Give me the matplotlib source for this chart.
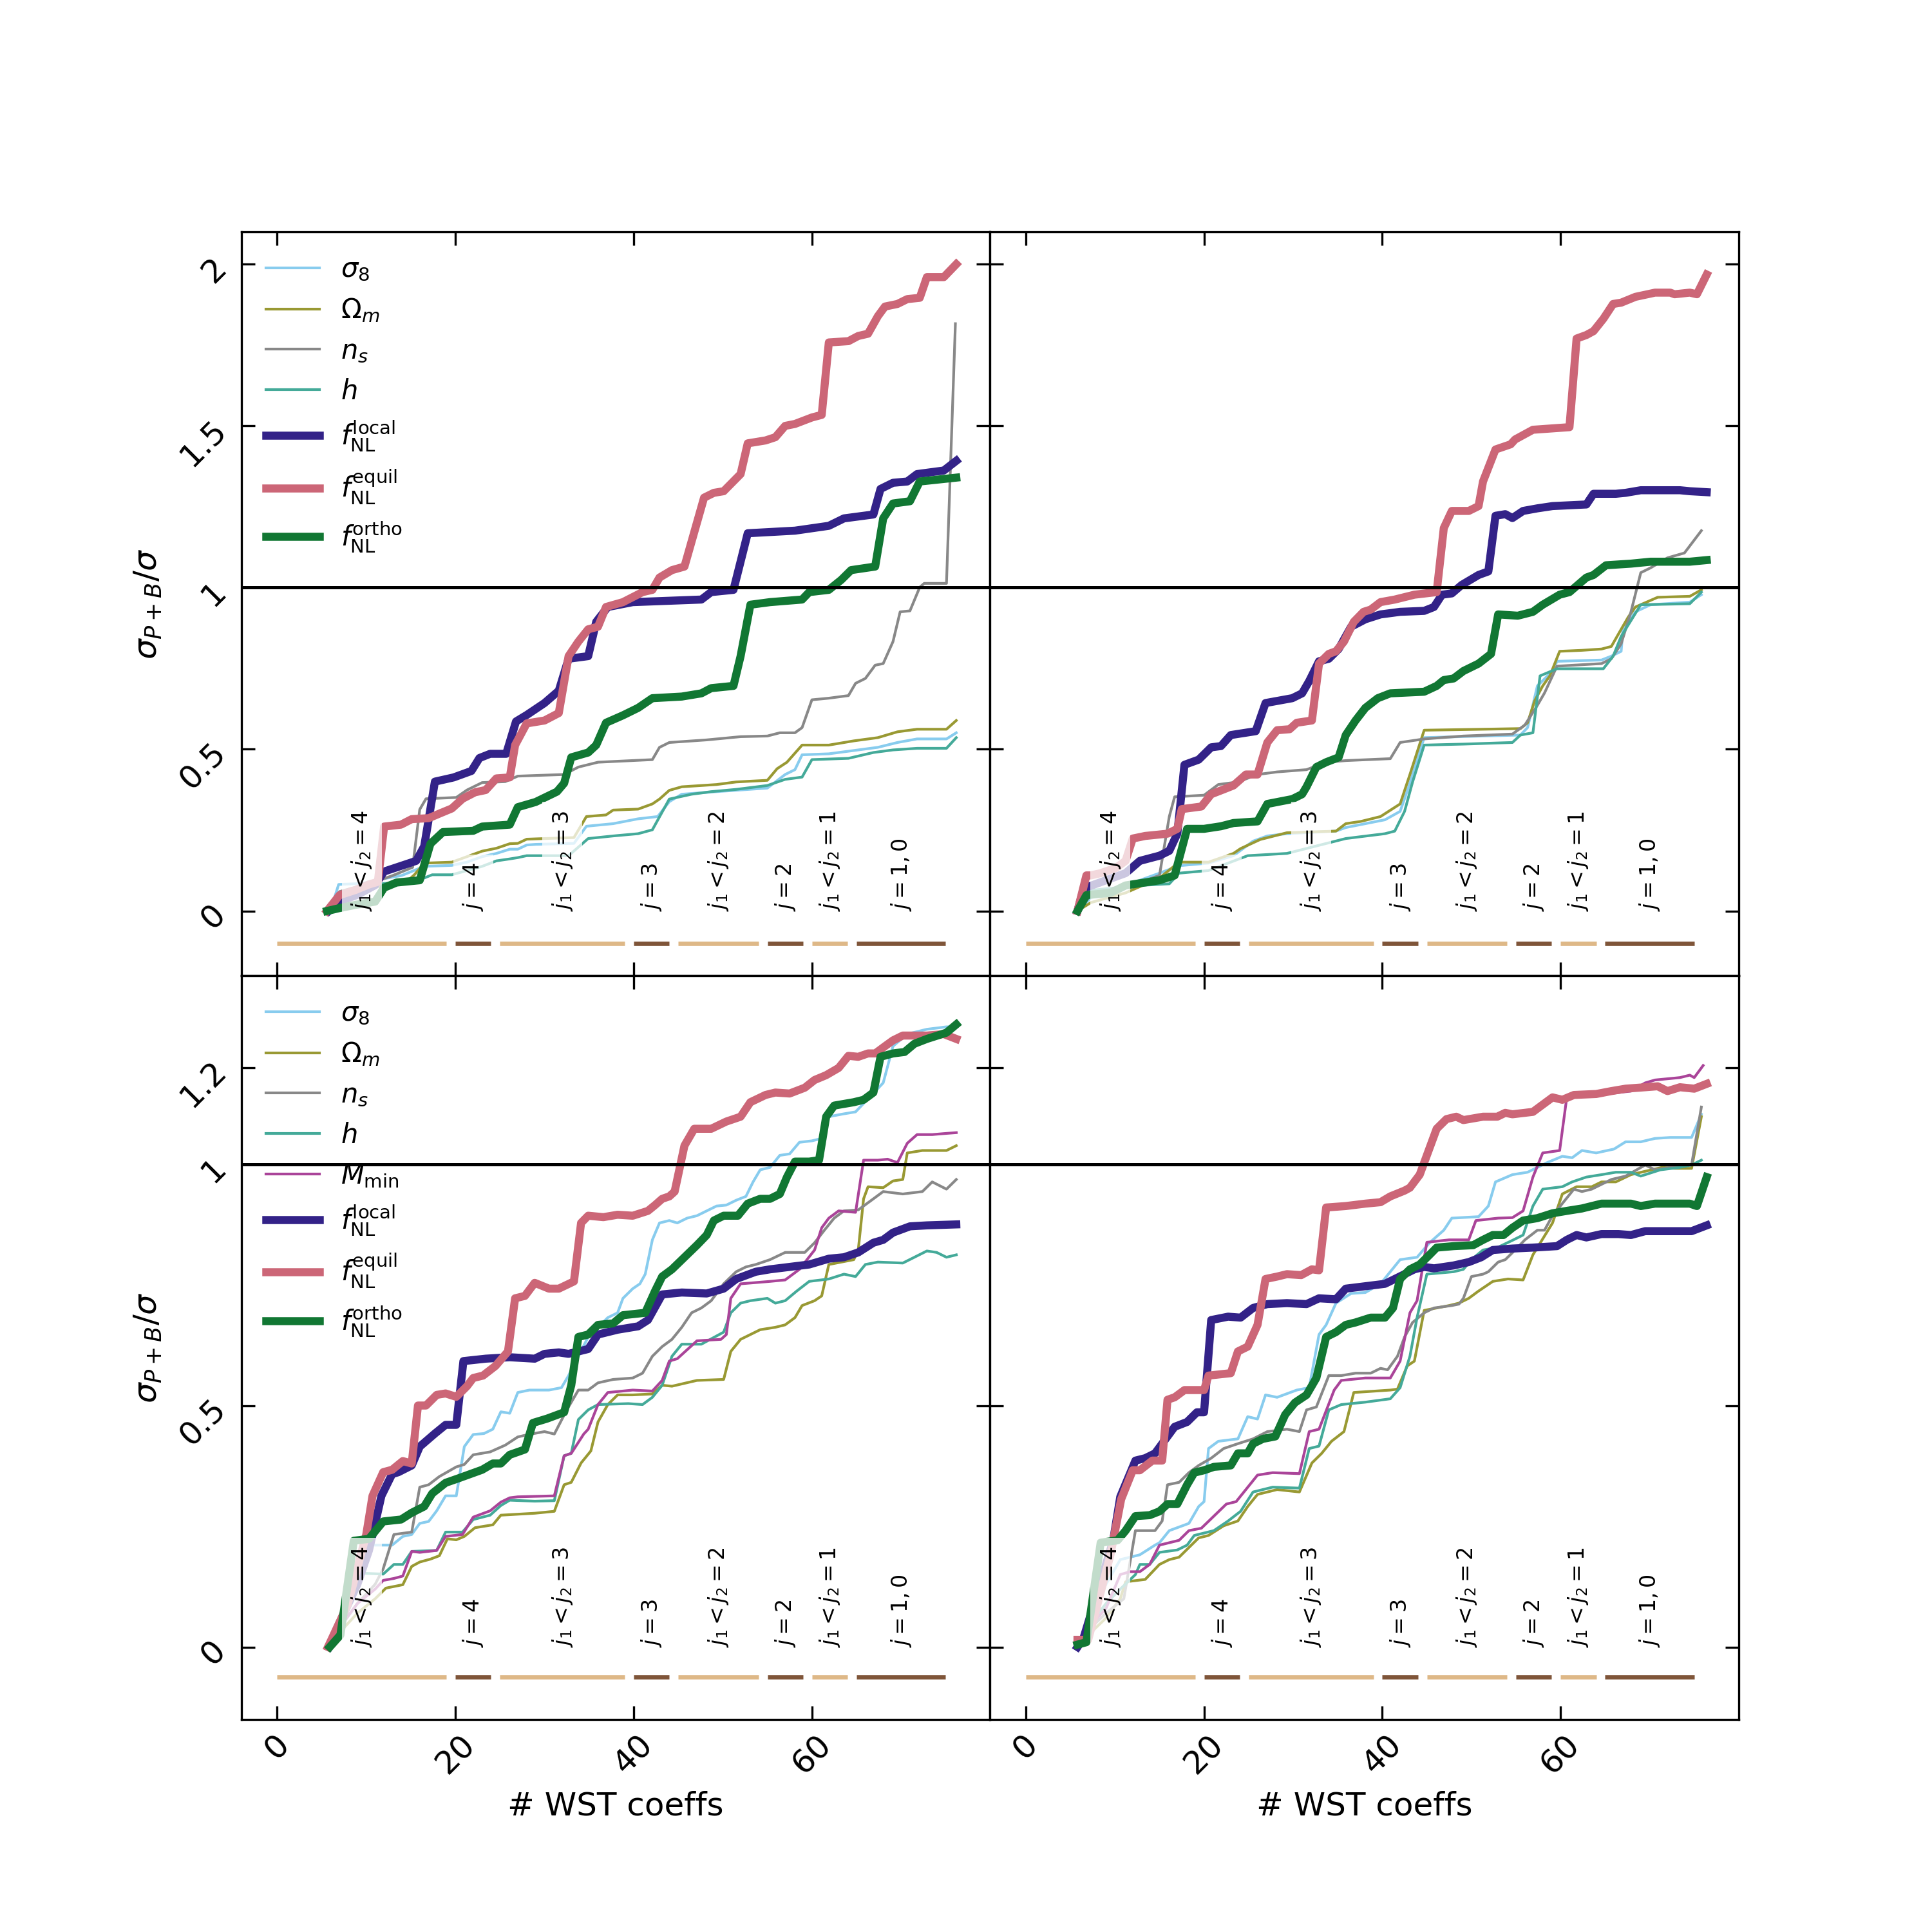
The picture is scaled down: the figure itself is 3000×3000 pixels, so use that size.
import matplotlib
matplotlib.use("Agg")
import matplotlib.pyplot as plt

# ---- WST 系数分组 (index 区间, 标签) ----
group_starts = [0, 20, 25, 40, 45, 55, 60, 65]
group_ends = [19, 24, 39, 44, 54, 59, 64, 75]
group_labels = [r"$j_1 < j_2 = 4$", r"$j = 4$", r"$j_1 < j_2 = 3$", r"$j = 3$",
                r"$j_1 < j_2 = 2$", r"$j = 2$", r"$j_1 < j_2 = 1$", r"$j = 1, 0$"]

param_labels = [r"$\sigma_8$", r"$\Omega_m$", r"$n_s$", r"$h$", r"$M_{\rm min}$",
                r"$f_{\rm NL}^{\rm local}$", r"$f_{\rm NL}^{\rm equil}$", r"$f_{\rm NL}^{\rm ortho}$"]
param_colors = ["#88CCEE", "#999933", "#888888", "#44AA99", "#AA4499",
                "#332288", "#CC6677", "#117733"]

# ---- top-left ----
tl_s8_x = [5.8, 6.3, 6.9, 9.5, 11.0, 14.0, 16.5, 19.6, 21.3, 23.0, 24.6, 26.1, 27.0, 28.0, 29.0, 33.3, 34.7, 37.7, 40.5, 42.7, 44.0, 45.4, 49.3, 55.0, 57.0, 58.1, 58.9, 61.9, 65.2, 67.4, 69.6, 71.8, 75.1, 76.2]
tl_s8_y = [0, 0.029, 0.082, 0.085, 0.095, 0.11, 0.138, 0.141, 0.151, 0.168, 0.178, 0.191, 0.191, 0.204, 0.206, 0.209, 0.262, 0.27, 0.285, 0.292, 0.338, 0.361, 0.369, 0.38, 0.422, 0.437, 0.483, 0.486, 0.498, 0.506, 0.521, 0.532, 0.532, 0.551]
tl_om_x = [5.8, 7.0, 9.0, 12.0, 14.5, 15.4, 16.5, 19.6, 23.0, 24.6, 26.1, 27.0, 28.0, 29.0, 33.3, 34.7, 36.9, 37.7, 40.5, 42.1, 42.9, 44.0, 45.4, 49.3, 51.5, 55.0, 56.1, 57.2, 58.9, 61.9, 64.7, 67.4, 69.6, 71.8, 75.1, 76.2]
tl_om_y = [0, 0.03, 0.06, 0.08, 0.09, 0.112, 0.148, 0.151, 0.185, 0.194, 0.208, 0.209, 0.222, 0.223, 0.227, 0.292, 0.297, 0.312, 0.315, 0.331, 0.346, 0.373, 0.384, 0.391, 0.399, 0.404, 0.44, 0.46, 0.513, 0.513, 0.526, 0.536, 0.554, 0.562, 0.562, 0.589]
tl_ns_x = [5.8, 7.0, 11.0, 13.0, 15.2, 16.0, 16.7, 20.1, 21.3, 23.0, 25.6, 27.0, 29.0, 32.2, 33.8, 36.0, 42.1, 42.9, 44.0, 48.2, 52.0, 55.0, 56.4, 58.1, 58.9, 60.0, 61.9, 64.1, 64.9, 66.0, 67.1, 68.0, 69.1, 69.9, 71.0, 72.1, 72.6, 75.1, 76.1]
tl_ns_y = [0, 0.06, 0.09, 0.11, 0.135, 0.314, 0.347, 0.351, 0.374, 0.397, 0.40, 0.417, 0.419, 0.422, 0.445, 0.46, 0.468, 0.506, 0.521, 0.529, 0.539, 0.541, 0.551, 0.551, 0.567, 0.653, 0.658, 0.666, 0.704, 0.719, 0.76, 0.765, 0.833, 0.925, 0.928, 1.001, 1.013, 1.013, 1.816]
tl_h_x = [5.8, 7.0, 9.0, 12.0, 15.4, 16.5, 17.4, 19.6, 21.3, 23.0, 24.6, 26.1, 27.0, 28.0, 29.4, 32.7, 34.9, 37.7, 40.5, 42.1, 44.0, 46.5, 48.7, 51.5, 55.0, 57.0, 58.9, 60.0, 64.1, 66.9, 69.1, 71.8, 75.1, 76.2]
tl_h_y = [0, 0.04, 0.07, 0.085, 0.09, 0.102, 0.112, 0.112, 0.125, 0.138, 0.155, 0.161, 0.165, 0.171, 0.171, 0.171, 0.224, 0.232, 0.239, 0.251, 0.346, 0.361, 0.369, 0.376, 0.388, 0.407, 0.414, 0.468, 0.472, 0.49, 0.498, 0.503, 0.503, 0.536]
tl_loc_x = [5.8, 7.0, 9.0, 11.0, 12.0, 15.6, 16.5, 17.7, 19.8, 21.8, 22.7, 23.9, 25.7, 26.8, 28.0, 30.0, 31.6, 32.7, 34.9, 35.8, 37.1, 39.9, 47.6, 48.7, 51.2, 52.8, 58.1, 61.9, 63.6, 66.9, 67.7, 69.1, 70.7, 71.8, 74.8, 76.2]
tl_loc_y = [0, 0.03, 0.05, 0.08, 0.122, 0.155, 0.2, 0.40, 0.413, 0.433, 0.473, 0.486, 0.486, 0.586, 0.606, 0.643, 0.681, 0.78, 0.788, 0.894, 0.94, 0.955, 0.963, 0.986, 0.993, 1.168, 1.176, 1.191, 1.214, 1.226, 1.305, 1.324, 1.328, 1.351, 1.362, 1.392]
tl_eq_x = [5.6, 7.0, 8.8, 10.3, 11.3, 12.0, 13.9, 15.1, 17.0, 18.2, 19.6, 20.8, 22.2, 23.4, 24.6, 26.1, 26.7, 28.0, 30.0, 31.6, 32.7, 33.8, 34.9, 36.0, 36.9, 38.8, 41.0, 42.1, 42.9, 44.3, 45.7, 47.9, 49.0, 50.1, 52.0, 52.8, 54.8, 55.9, 57.0, 58.1, 60.0, 61.1, 61.9, 64.1, 65.2, 66.3, 67.4, 68.2, 69.6, 70.7, 72.1, 72.9, 74.8, 76.2]
tl_eq_y = [0, 0.049, 0.065, 0.082, 0.09, 0.261, 0.267, 0.284, 0.287, 0.301, 0.317, 0.347, 0.367, 0.374, 0.41, 0.413, 0.513, 0.58, 0.589, 0.612, 0.788, 0.833, 0.871, 0.879, 0.94, 0.955, 0.986, 0.993, 1.031, 1.054, 1.065, 1.278, 1.293, 1.298, 1.351, 1.446, 1.455, 1.465, 1.5, 1.506, 1.526, 1.534, 1.758, 1.762, 1.778, 1.785, 1.839, 1.869, 1.877, 1.892, 1.896, 1.96, 1.96, 2.0]
tl_or_x = [5.6, 7.0, 8.8, 11.0, 12.0, 13.4, 16.0, 17.2, 18.6, 22.0, 23.0, 26.1, 27.0, 29.0, 31.4, 32.2, 33.0, 34.9, 35.8, 36.9, 38.8, 40.5, 42.1, 45.4, 47.6, 48.7, 51.2, 52.0, 53.1, 55.3, 58.9, 59.7, 61.9, 63.3, 64.4, 67.1, 68.0, 69.1, 71.0, 72.1, 76.2]
tl_or_y = [0, 0.009, 0.019, 0.029, 0.072, 0.088, 0.095, 0.208, 0.244, 0.248, 0.261, 0.267, 0.321, 0.337, 0.369, 0.395, 0.475, 0.49, 0.513, 0.582, 0.605, 0.628, 0.658, 0.663, 0.673, 0.689, 0.696, 0.788, 0.947, 0.955, 0.963, 0.986, 0.993, 1.024, 1.054, 1.065, 1.214, 1.26, 1.267, 1.328, 1.34]

# ---- top-right ----
tr_s8_x = [5.8, 7.3, 11.2, 15.0, 17.2, 20.5, 23.3, 25.5, 27.1, 29.3, 34.8, 35.9, 38.1, 40.3, 42.0, 43.1, 44.7, 51.3, 55.5, 56.3, 57.4, 59.1, 59.6, 64.6, 65.7, 66.8, 67.0, 68.4, 70.1, 74.5, 75.8]
tr_s8_y = [0, 0.041, 0.079, 0.117, 0.14, 0.148, 0.171, 0.216, 0.232, 0.239, 0.247, 0.258, 0.27, 0.282, 0.308, 0.395, 0.536, 0.541, 0.544, 0.567, 0.696, 0.742, 0.772, 0.776, 0.788, 0.803, 0.871, 0.925, 0.947, 0.955, 0.978]
tr_om_x = [5.8, 7.3, 11.2, 15.0, 17.2, 20.5, 23.3, 24.1, 26.3, 29.3, 34.8, 35.9, 37.6, 39.8, 42.0, 43.1, 44.7, 51.3, 55.5, 56.3, 57.1, 58.0, 58.8, 59.9, 62.4, 64.6, 65.7, 66.8, 67.6, 68.4, 70.9, 74.5, 75.8]
tr_om_y = [0, 0.026, 0.056, 0.102, 0.151, 0.151, 0.178, 0.193, 0.221, 0.242, 0.247, 0.27, 0.277, 0.292, 0.331, 0.422, 0.559, 0.562, 0.564, 0.582, 0.65, 0.696, 0.727, 0.803, 0.806, 0.81, 0.818, 0.871, 0.909, 0.94, 0.97, 0.973, 0.993]
tr_ns_x = [5.8, 7.3, 11.2, 15.0, 16.1, 16.7, 20.0, 21.6, 23.8, 26.0, 28.2, 31.5, 33.7, 35.9, 40.9, 42.0, 44.7, 49.1, 54.6, 56.0, 57.4, 58.2, 59.6, 64.6, 65.7, 66.8, 67.9, 69.0, 70.1, 72.0, 73.9, 75.8]
tr_ns_y = [0, 0.049, 0.072, 0.11, 0.292, 0.353, 0.358, 0.391, 0.399, 0.422, 0.43, 0.437, 0.46, 0.465, 0.471, 0.521, 0.532, 0.541, 0.547, 0.575, 0.636, 0.674, 0.757, 0.765, 0.78, 0.826, 0.925, 1.046, 1.061, 1.092, 1.107, 1.176]
tr_h_x = [5.8, 7.3, 12.8, 16.1, 17.2, 20.5, 22.7, 24.9, 29.3, 32.6, 35.9, 40.3, 41.4, 42.5, 43.4, 44.7, 49.1, 54.6, 55.5, 56.9, 57.7, 59.6, 64.8, 65.9, 66.8, 69.0, 74.5, 75.8]
tr_h_y = [0, 0.064, 0.079, 0.084, 0.117, 0.125, 0.148, 0.171, 0.178, 0.201, 0.224, 0.239, 0.247, 0.308, 0.399, 0.513, 0.516, 0.521, 0.544, 0.551, 0.727, 0.749, 0.749, 0.788, 0.849, 0.947, 0.95, 0.986]
tr_loc_x = [5.8, 6.5, 11.2, 12.8, 15.0, 16.1, 17.0, 17.8, 19.4, 20.8, 21.9, 23.0, 25.8, 26.9, 29.9, 31.0, 31.8, 32.9, 34.0, 35.1, 36.5, 38.1, 39.8, 42.0, 44.7, 45.8, 46.7, 47.8, 48.9, 50.8, 51.9, 52.7, 53.8, 54.6, 55.8, 57.4, 59.1, 62.9, 63.7, 66.2, 67.3, 69.0, 73.4, 74.5, 76.4]
tr_loc_y = [0, 0.07, 0.117, 0.155, 0.171, 0.186, 0.239, 0.452, 0.468, 0.506, 0.51, 0.544, 0.556, 0.643, 0.658, 0.673, 0.711, 0.772, 0.78, 0.81, 0.879, 0.902, 0.917, 0.925, 0.928, 0.94, 0.978, 0.982, 1.008, 1.039, 1.05, 1.222, 1.227, 1.215, 1.237, 1.245, 1.252, 1.257, 1.29, 1.29, 1.293, 1.301, 1.301, 1.298, 1.295]
tr_eq_x = [5.8, 6.8, 7.3, 8.4, 10.1, 11.2, 12.0, 13.4, 15.9, 17.0, 17.5, 19.7, 20.8, 22.2, 23.3, 24.7, 26.0, 27.1, 28.2, 29.6, 30.4, 32.1, 32.9, 34.0, 34.8, 35.7, 36.8, 37.9, 38.7, 39.8, 41.4, 43.6, 46.1, 46.9, 47.8, 49.7, 50.8, 51.3, 52.7, 54.4, 54.9, 56.9, 61.0, 61.8, 62.9, 63.7, 64.8, 65.9, 66.8, 68.4, 70.6, 72.3, 72.8, 74.5, 75.3, 76.4]
tr_eq_y = [0, 0.11, 0.11, 0.117, 0.133, 0.155, 0.224, 0.232, 0.239, 0.254, 0.315, 0.323, 0.361, 0.376, 0.388, 0.422, 0.422, 0.521, 0.559, 0.562, 0.582, 0.589, 0.765, 0.795, 0.803, 0.833, 0.894, 0.925, 0.932, 0.955, 0.963, 0.978, 0.986, 1.184, 1.237, 1.237, 1.252, 1.328, 1.427, 1.443, 1.458, 1.488, 1.496, 1.77, 1.781, 1.793, 1.831, 1.877, 1.881, 1.899, 1.912, 1.912, 1.907, 1.912, 1.907, 1.968]
tr_or_x = [5.8, 6.8, 9.5, 11.2, 15.0, 16.7, 18.1, 20.0, 21.9, 23.3, 26.0, 27.1, 29.9, 31.0, 31.5, 32.6, 33.7, 35.1, 35.9, 37.0, 38.1, 39.5, 40.9, 44.7, 46.1, 46.9, 48.0, 49.1, 50.8, 52.2, 53.0, 55.2, 56.9, 58.0, 59.9, 61.0, 62.9, 63.7, 65.1, 67.9, 70.1, 74.5, 76.4]
tr_or_y = [0, 0.049, 0.056, 0.079, 0.095, 0.11, 0.254, 0.254, 0.262, 0.272, 0.277, 0.331, 0.346, 0.361, 0.384, 0.445, 0.46, 0.475, 0.544, 0.589, 0.628, 0.658, 0.673, 0.678, 0.696, 0.714, 0.719, 0.742, 0.765, 0.795, 0.917, 0.913, 0.925, 0.947, 0.978, 0.986, 1.031, 1.039, 1.069, 1.074, 1.08, 1.08, 1.085]

# ---- bottom-left ----
bl_s8_x = [5.8, 7.0, 8.5, 9.3, 10.3, 12.9, 14.1, 15.1, 16.0, 17.0, 17.9, 18.9, 20.1, 21.0, 22.0, 23.2, 24.2, 25.1, 26.1, 27.0, 28.3, 30.5, 31.9, 32.7, 33.8, 34.9, 36.0, 37.1, 38.2, 38.8, 39.9, 40.7, 41.3, 42.1, 42.9, 44.0, 44.9, 46.0, 47.1, 48.2, 49.3, 50.4, 51.5, 52.6, 53.4, 54.2, 55.3, 56.4, 57.5, 58.6, 60.0, 61.1, 61.9, 63.3, 64.9, 68.0, 69.1, 70.7, 71.8, 72.9, 75.1, 76.2]
bl_s8_y = [0, 0.05, 0.1, 0.136, 0.211, 0.211, 0.229, 0.233, 0.256, 0.26, 0.282, 0.313, 0.313, 0.415, 0.44, 0.442, 0.451, 0.487, 0.484, 0.527, 0.532, 0.532, 0.537, 0.562, 0.602, 0.642, 0.662, 0.682, 0.692, 0.722, 0.742, 0.752, 0.772, 0.843, 0.878, 0.883, 0.878, 0.888, 0.893, 0.903, 0.913, 0.915, 0.925, 0.933, 0.963, 0.988, 0.993, 1.018, 1.021, 1.045, 1.048, 1.053, 1.098, 1.103, 1.108, 1.168, 1.244, 1.269, 1.274, 1.279, 1.284, 1.284]
bl_om_x = [5.8, 7.0, 9.0, 11.0, 12.2, 14.1, 15.1, 16.0, 17.2, 18.2, 19.1, 20.1, 21.0, 22.2, 24.2, 25.1, 27.0, 28.9, 31.1, 32.2, 33.0, 34.1, 35.2, 36.0, 37.1, 38.2, 39.9, 42.1, 43.2, 44.3, 47.1, 50.1, 50.9, 52.0, 54.2, 55.9, 57.0, 58.1, 58.9, 60.3, 61.1, 61.9, 64.7, 65.2, 65.8, 66.3, 68.0, 69.1, 70.2, 70.7, 72.4, 75.1, 76.2]
bl_om_y = [0, 0.03, 0.07, 0.1, 0.122, 0.129, 0.167, 0.176, 0.182, 0.189, 0.224, 0.222, 0.229, 0.247, 0.253, 0.273, 0.275, 0.277, 0.281, 0.336, 0.341, 0.381, 0.406, 0.466, 0.502, 0.522, 0.522, 0.524, 0.542, 0.54, 0.552, 0.554, 0.612, 0.637, 0.657, 0.662, 0.667, 0.682, 0.707, 0.717, 0.727, 0.792, 0.802, 0.822, 0.928, 0.953, 0.951, 0.965, 0.968, 1.023, 1.028, 1.028, 1.038]
bl_ns_x = [5.8, 7.0, 9.0, 11.0, 11.9, 13.1, 15.1, 16.0, 17.0, 18.2, 20.1, 21.0, 22.0, 23.9, 25.6, 27.0, 28.2, 30.0, 31.1, 32.5, 33.8, 34.9, 36.0, 37.7, 39.9, 41.0, 42.1, 43.2, 44.3, 45.4, 46.5, 47.6, 48.7, 50.1, 51.5, 52.6, 53.7, 55.3, 57.0, 59.2, 60.3, 61.4, 62.5, 63.6, 65.2, 66.9, 68.0, 70.2, 72.4, 73.5, 75.1, 76.2]
bl_ns_y = [0, 0.04, 0.09, 0.13, 0.162, 0.233, 0.238, 0.331, 0.336, 0.353, 0.373, 0.378, 0.398, 0.404, 0.418, 0.435, 0.44, 0.446, 0.441, 0.491, 0.532, 0.532, 0.547, 0.554, 0.557, 0.567, 0.602, 0.622, 0.637, 0.662, 0.692, 0.702, 0.717, 0.752, 0.777, 0.787, 0.792, 0.802, 0.817, 0.817, 0.837, 0.863, 0.888, 0.903, 0.905, 0.928, 0.943, 0.938, 0.943, 0.963, 0.948, 0.968]
bl_h_x = [5.8, 7.0, 8.5, 9.3, 11.9, 13.1, 14.1, 15.1, 17.9, 18.9, 20.8, 22.0, 23.9, 25.1, 26.1, 28.9, 31.1, 32.2, 33.0, 33.8, 34.9, 36.0, 39.4, 41.0, 42.1, 43.2, 44.3, 45.4, 47.6, 50.1, 50.9, 52.0, 53.1, 55.0, 55.9, 57.0, 58.3, 59.7, 61.9, 63.6, 64.9, 66.0, 67.4, 70.2, 71.5, 72.9, 74.0, 75.1, 76.2]
bl_h_y = [0, 0.04, 0.12, 0.153, 0.151, 0.171, 0.171, 0.198, 0.2, 0.238, 0.238, 0.264, 0.273, 0.293, 0.304, 0.302, 0.303, 0.396, 0.401, 0.471, 0.491, 0.502, 0.504, 0.502, 0.517, 0.542, 0.602, 0.627, 0.627, 0.652, 0.692, 0.712, 0.717, 0.722, 0.712, 0.717, 0.737, 0.757, 0.762, 0.772, 0.767, 0.792, 0.797, 0.795, 0.807, 0.82, 0.817, 0.807, 0.812]
bl_mm_x = [5.8, 7.0, 9.0, 11.0, 11.9, 13.1, 14.1, 15.1, 16.0, 17.9, 18.9, 20.8, 22.0, 23.9, 25.1, 26.1, 27.0, 31.1, 32.2, 33.0, 34.4, 34.9, 36.0, 37.1, 39.9, 42.1, 43.2, 44.0, 44.9, 47.1, 49.8, 50.4, 50.9, 52.0, 55.3, 57.0, 58.6, 60.3, 61.1, 61.9, 63.0, 64.9, 65.8, 67.4, 68.5, 69.6, 70.7, 71.8, 73.5, 74.8, 76.2]
bl_mm_y = [0, 0.04, 0.09, 0.12, 0.138, 0.142, 0.147, 0.198, 0.196, 0.2, 0.229, 0.233, 0.269, 0.282, 0.3, 0.309, 0.311, 0.313, 0.396, 0.401, 0.441, 0.451, 0.502, 0.527, 0.532, 0.53, 0.552, 0.592, 0.597, 0.634, 0.637, 0.647, 0.722, 0.752, 0.757, 0.76, 0.782, 0.822, 0.868, 0.888, 0.903, 0.9, 1.008, 1.008, 1.01, 1.003, 1.043, 1.061, 1.061, 1.063, 1.065]
bl_loc_x = [5.8, 7.0, 9.0, 10.3, 11.0, 11.7, 12.9, 13.6, 15.1, 16.0, 17.7, 18.9, 20.1, 20.9, 23.4, 26.1, 28.9, 30.0, 31.6, 32.7, 34.9, 36.0, 38.2, 40.5, 41.6, 43.2, 45.4, 48.2, 50.1, 51.5, 53.7, 55.3, 57.5, 59.7, 61.9, 63.6, 65.2, 66.9, 68.0, 69.1, 71.0, 72.9, 76.2]
bl_loc_y = [0, 0.05, 0.13, 0.2, 0.256, 0.313, 0.358, 0.362, 0.376, 0.415, 0.442, 0.46, 0.46, 0.592, 0.597, 0.60, 0.597, 0.607, 0.61, 0.607, 0.617, 0.647, 0.657, 0.664, 0.677, 0.73, 0.734, 0.732, 0.742, 0.762, 0.777, 0.782, 0.787, 0.792, 0.804, 0.807, 0.817, 0.837, 0.843, 0.858, 0.871, 0.873, 0.875]
bl_eq_x = [5.7, 7.9, 10.0, 10.7, 11.9, 12.9, 14.1, 15.1, 15.8, 16.7, 17.9, 18.9, 20.1, 21.3, 22.0, 23.1, 24.5, 25.9, 26.7, 27.8, 28.9, 30.5, 31.6, 33.3, 34.1, 34.9, 36.6, 38.2, 39.9, 41.6, 42.4, 43.2, 44.0, 44.6, 45.7, 46.8, 48.7, 50.4, 52.0, 53.1, 54.8, 55.9, 57.5, 59.2, 60.3, 61.6, 63.0, 64.1, 65.2, 66.3, 67.1, 68.2, 69.1, 70.2, 72.9, 74.8, 76.2]
bl_eq_y = [0, 0.087, 0.233, 0.313, 0.362, 0.367, 0.385, 0.38, 0.50, 0.50, 0.522, 0.525, 0.518, 0.54, 0.557, 0.562, 0.582, 0.612, 0.722, 0.727, 0.754, 0.742, 0.742, 0.757, 0.878, 0.893, 0.89, 0.895, 0.893, 0.903, 0.915, 0.928, 0.933, 0.943, 1.038, 1.073, 1.073, 1.088, 1.098, 1.128, 1.143, 1.148, 1.146, 1.158, 1.174, 1.184, 1.199, 1.224, 1.222, 1.229, 1.229, 1.244, 1.256, 1.266, 1.266, 1.269, 1.259]
bl_or_x = [5.9, 7.1, 8.6, 10.3, 11.9, 13.9, 15.1, 16.5, 17.4, 18.9, 20.3, 23.0, 24.2, 25.1, 26.1, 27.8, 28.7, 30.3, 32.2, 33.0, 33.8, 34.9, 36.0, 37.7, 38.8, 41.3, 42.4, 43.2, 44.3, 45.7, 47.1, 48.2, 49.0, 50.1, 51.7, 52.8, 54.2, 55.3, 56.4, 57.2, 58.1, 59.7, 60.8, 61.6, 62.5, 64.7, 65.8, 66.9, 67.7, 69.1, 70.4, 71.5, 72.9, 74.6, 75.1, 76.2]
bl_or_y = [0, 0.025, 0.22, 0.224, 0.26, 0.264, 0.278, 0.291, 0.318, 0.34, 0.349, 0.367, 0.38, 0.38, 0.398, 0.409, 0.464, 0.473, 0.486, 0.542, 0.642, 0.647, 0.667, 0.67, 0.687, 0.692, 0.737, 0.767, 0.782, 0.807, 0.832, 0.853, 0.883, 0.893, 0.893, 0.918, 0.928, 0.928, 0.938, 0.973, 1.005, 1.005, 1.008, 1.098, 1.121, 1.128, 1.133, 1.148, 1.222, 1.229, 1.232, 1.249, 1.259, 1.269, 1.272, 1.289]

# ---- bottom-right ----
br_s8_x = [5.8, 7.0, 9.0, 10.6, 12.8, 14.5, 15.0, 16.1, 18.3, 19.4, 20.0, 20.5, 21.6, 23.8, 24.9, 26.0, 26.9, 28.2, 30.4, 31.8, 32.9, 33.7, 34.8, 36.5, 38.1, 39.8, 42.0, 43.9, 45.3, 46.9, 47.8, 50.8, 51.9, 52.7, 54.6, 56.3, 58.5, 60.2, 61.3, 62.4, 64.0, 66.0, 67.3, 69.0, 70.6, 72.3, 74.7, 75.8]
br_s8_y = [0, 0.05, 0.13, 0.181, 0.191, 0.211, 0.216, 0.241, 0.256, 0.291, 0.301, 0.411, 0.426, 0.431, 0.477, 0.472, 0.522, 0.517, 0.532, 0.537, 0.647, 0.667, 0.712, 0.732, 0.734, 0.752, 0.802, 0.807, 0.837, 0.863, 0.888, 0.891, 0.913, 0.963, 0.978, 0.983, 1.003, 1.016, 1.013, 1.028, 1.023, 1.031, 1.046, 1.046, 1.053, 1.055, 1.055, 1.103]
br_om_x = [5.8, 7.3, 9.0, 10.6, 11.2, 13.4, 15.0, 16.1, 17.2, 18.3, 19.4, 20.5, 22.2, 23.8, 24.9, 26.0, 28.2, 30.7, 32.1, 33.2, 34.3, 35.7, 36.8, 40.9, 41.7, 42.8, 43.6, 44.7, 47.5, 48.6, 49.7, 50.8, 52.4, 54.1, 55.8, 56.9, 59.1, 60.2, 61.8, 63.5, 64.6, 66.2, 67.9, 69.5, 71.4, 72.8, 74.7, 75.8]
br_om_y = [0, 0.03, 0.06, 0.1, 0.135, 0.14, 0.171, 0.181, 0.186, 0.206, 0.226, 0.231, 0.251, 0.261, 0.291, 0.316, 0.326, 0.321, 0.381, 0.401, 0.426, 0.446, 0.527, 0.532, 0.534, 0.582, 0.592, 0.697, 0.707, 0.712, 0.722, 0.737, 0.757, 0.762, 0.76, 0.812, 0.878, 0.938, 0.953, 0.953, 0.963, 0.963, 0.978, 0.985, 0.993, 0.991, 0.991, 1.098]
br_ns_x = [5.8, 7.3, 9.0, 11.0, 12.3, 14.5, 15.3, 15.9, 17.2, 18.3, 19.4, 20.8, 22.2, 23.8, 25.5, 27.1, 29.3, 30.7, 31.5, 32.6, 34.0, 35.4, 37.0, 38.7, 39.8, 40.6, 41.7, 42.5, 43.4, 44.7, 45.8, 47.8, 48.6, 49.1, 50.0, 51.3, 51.9, 53.0, 53.8, 54.9, 56.0, 57.4, 58.2, 59.1, 61.5, 62.4, 63.5, 64.6, 65.7, 67.3, 69.5, 70.6, 72.3, 74.7, 75.8]
br_ns_y = [0, 0.04, 0.07, 0.1, 0.241, 0.241, 0.261, 0.336, 0.341, 0.361, 0.376, 0.391, 0.411, 0.421, 0.431, 0.446, 0.451, 0.446, 0.491, 0.497, 0.562, 0.562, 0.567, 0.567, 0.577, 0.574, 0.602, 0.642, 0.672, 0.692, 0.702, 0.707, 0.71, 0.722, 0.767, 0.772, 0.777, 0.797, 0.802, 0.822, 0.843, 0.863, 0.863, 0.893, 0.948, 0.943, 0.948, 0.958, 0.968, 0.975, 0.998, 0.988, 0.993, 0.998, 1.118]
br_h_x = [5.8, 7.3, 9.0, 10.6, 12.3, 12.8, 13.9, 15.0, 17.0, 18.1, 18.9, 21.1, 22.7, 24.1, 25.5, 27.7, 30.7, 31.8, 32.9, 34.0, 35.4, 38.1, 40.9, 42.0, 43.1, 43.9, 45.0, 48.0, 49.1, 50.0, 51.3, 52.9, 54.6, 55.8, 56.9, 58.0, 60.2, 61.3, 62.9, 64.6, 66.2, 67.9, 69.0, 71.2, 73.4, 74.7, 75.8]
br_h_y = [0, 0.05, 0.09, 0.12, 0.15, 0.171, 0.171, 0.196, 0.201, 0.211, 0.231, 0.241, 0.261, 0.281, 0.321, 0.331, 0.329, 0.411, 0.416, 0.491, 0.502, 0.507, 0.514, 0.537, 0.602, 0.682, 0.772, 0.777, 0.782, 0.802, 0.822, 0.827, 0.842, 0.853, 0.913, 0.948, 0.953, 0.963, 0.973, 0.978, 0.983, 0.983, 0.975, 0.988, 0.993, 0.998, 1.008]
br_mm_x = [5.8, 7.3, 9.0, 10.6, 11.7, 12.8, 13.9, 15.0, 16.1, 17.2, 18.3, 19.7, 21.1, 22.5, 23.6, 26.0, 27.7, 30.7, 31.8, 32.9, 34.6, 35.4, 38.1, 40.9, 42.0, 43.1, 43.9, 45.0, 47.5, 49.7, 50.5, 53.0, 54.6, 55.8, 56.9, 58.0, 59.9, 60.7, 62.4, 65.1, 67.9, 69.5, 70.6, 73.4, 74.5, 75.0, 76.0]
br_mm_y = [0, 0.045, 0.08, 0.15, 0.156, 0.156, 0.171, 0.211, 0.216, 0.221, 0.241, 0.246, 0.271, 0.296, 0.301, 0.356, 0.361, 0.359, 0.446, 0.451, 0.532, 0.552, 0.557, 0.557, 0.592, 0.692, 0.717, 0.838, 0.843, 0.843, 0.883, 0.888, 0.889, 0.903, 0.973, 1.023, 1.028, 1.138, 1.14, 1.145, 1.151, 1.168, 1.174, 1.179, 1.184, 1.179, 1.204]
br_loc_x = [5.8, 6.5, 9.8, 10.6, 12.3, 13.4, 14.5, 15.9, 16.7, 18.1, 19.2, 20.0, 20.8, 22.7, 24.1, 25.5, 27.1, 29.3, 31.5, 32.9, 34.8, 35.9, 38.1, 40.3, 41.4, 42.5, 43.6, 44.7, 45.8, 48.0, 49.7, 51.1, 52.4, 54.6, 56.9, 59.6, 60.7, 61.8, 62.9, 64.6, 66.5, 67.9, 69.5, 72.3, 74.7, 76.4]
br_loc_y = [0, 0.02, 0.22, 0.311, 0.386, 0.391, 0.401, 0.436, 0.456, 0.466, 0.486, 0.486, 0.677, 0.684, 0.682, 0.702, 0.71, 0.712, 0.71, 0.722, 0.72, 0.742, 0.747, 0.752, 0.762, 0.772, 0.782, 0.787, 0.784, 0.79, 0.797, 0.807, 0.822, 0.825, 0.827, 0.83, 0.843, 0.853, 0.848, 0.855, 0.855, 0.853, 0.861, 0.861, 0.861, 0.873]
br_eq_x = [5.8, 7.0, 9.5, 10.7, 12.0, 12.8, 14.2, 15.3, 15.9, 16.7, 17.8, 20.0, 20.5, 23.0, 23.8, 24.9, 26.0, 26.9, 28.2, 29.3, 30.9, 32.1, 32.9, 33.7, 35.9, 38.1, 39.8, 40.9, 42.5, 43.1, 44.2, 44.7, 46.1, 47.2, 48.3, 49.1, 51.3, 52.9, 53.8, 54.6, 56.9, 58.0, 59.1, 60.2, 61.5, 64.0, 65.7, 67.3, 69.5, 70.9, 72.0, 73.4, 75.0, 76.4]
br_eq_y = [0.015, 0.015, 0.191, 0.306, 0.366, 0.366, 0.386, 0.386, 0.512, 0.517, 0.532, 0.532, 0.562, 0.567, 0.612, 0.622, 0.667, 0.762, 0.767, 0.772, 0.77, 0.782, 0.78, 0.91, 0.913, 0.918, 0.921, 0.933, 0.945, 0.951, 0.978, 1.003, 1.073, 1.093, 1.098, 1.091, 1.098, 1.098, 1.106, 1.103, 1.108, 1.123, 1.138, 1.133, 1.143, 1.145, 1.151, 1.156, 1.159, 1.161, 1.151, 1.159, 1.156, 1.166]
br_or_x = [5.8, 6.8, 8.4, 10.3, 11.2, 12.3, 13.9, 15.0, 15.9, 17.0, 18.1, 18.9, 20.0, 21.1, 23.0, 23.8, 24.9, 25.5, 26.6, 28.0, 29.1, 30.2, 31.5, 32.6, 33.7, 34.8, 35.9, 37.0, 38.7, 40.3, 41.2, 42.0, 43.1, 44.2, 45.3, 46.1, 48.0, 50.2, 51.3, 52.4, 53.6, 54.6, 55.8, 57.4, 59.1, 60.7, 62.4, 64.6, 67.9, 69.0, 70.6, 74.5, 75.3, 76.4]
br_or_y = [0.005, 0.01, 0.216, 0.221, 0.241, 0.271, 0.273, 0.281, 0.296, 0.296, 0.336, 0.361, 0.366, 0.373, 0.376, 0.401, 0.401, 0.421, 0.431, 0.436, 0.481, 0.506, 0.522, 0.557, 0.642, 0.652, 0.667, 0.672, 0.682, 0.682, 0.702, 0.762, 0.782, 0.792, 0.812, 0.827, 0.83, 0.832, 0.843, 0.853, 0.853, 0.868, 0.883, 0.888, 0.898, 0.903, 0.908, 0.918, 0.918, 0.913, 0.918, 0.918, 0.913, 0.973]

top_yticks = [0, 0.5, 1, 1.5, 2]
top_yticklabels = ["0", "0.5", "1", "1.5", "2"]
bottom_yticks = [0, 0.5, 1, 1.2]
bottom_yticklabels = ["0", "0.5", "1", "1.2"]
xticks = [0, 20, 40, 60]


def draw_panel(ax, curves, ylim, bar_y, show_legend):
    """画一个面板：各参数曲线 + y=1 参考线 + 系数分组标注。"""

    for x, y, idx in curves:
        lw = 3.0 if idx >= 5 else 1.0
        ax.plot(x, y, color=param_colors[idx], lw=lw, label=param_labels[idx])
    ax.axhline(1, color="k", lw=1.2)

    for i, (s, e) in enumerate(zip(group_starts, group_ends)):
        shade = "#DEB887" if i % 2 == 0 else "#7F5539"
        ax.plot([s, e], [bar_y, bar_y], color=shade, lw=1.6, solid_capstyle="butt")
        ax.text((s + e) / 2, 0, group_labels[i], rotation=90, ha="center", va="bottom",
                fontsize=8, bbox=dict(facecolor="white", alpha=0.75, edgecolor="none", pad=3))

    ax.set_xlim(-4, 80)
    ax.set_ylim(*ylim)
    ax.set_xticks(xticks)
    ax.tick_params(direction="in", top=True, right=True, length=5, labelsize=12)
    if show_legend:
        ax.legend(loc="upper left", frameon=False, fontsize=10)


fig, axes = plt.subplots(2, 2, figsize=(10, 10), sharex=True, sharey="row")
fig.subplots_adjust(wspace=0, hspace=0)

draw_panel(axes[0, 0], [(tl_s8_x, tl_s8_y, 0), (tl_om_x, tl_om_y, 1), (tl_ns_x, tl_ns_y, 2),
                        (tl_h_x, tl_h_y, 3), (tl_loc_x, tl_loc_y, 5), (tl_eq_x, tl_eq_y, 6),
                        (tl_or_x, tl_or_y, 7)], (-0.2, 2.1), -0.1, True)
draw_panel(axes[0, 1], [(tr_s8_x, tr_s8_y, 0), (tr_om_x, tr_om_y, 1), (tr_ns_x, tr_ns_y, 2),
                        (tr_h_x, tr_h_y, 3), (tr_loc_x, tr_loc_y, 5), (tr_eq_x, tr_eq_y, 6),
                        (tr_or_x, tr_or_y, 7)], (-0.2, 2.1), -0.1, False)
draw_panel(axes[1, 0], [(bl_s8_x, bl_s8_y, 0), (bl_om_x, bl_om_y, 1), (bl_ns_x, bl_ns_y, 2),
                        (bl_h_x, bl_h_y, 3), (bl_mm_x, bl_mm_y, 4), (bl_loc_x, bl_loc_y, 5),
                        (bl_eq_x, bl_eq_y, 6), (bl_or_x, bl_or_y, 7)], (-0.15, 1.39), -0.062, True)
draw_panel(axes[1, 1], [(br_s8_x, br_s8_y, 0), (br_om_x, br_om_y, 1), (br_ns_x, br_ns_y, 2),
                        (br_h_x, br_h_y, 3), (br_mm_x, br_mm_y, 4), (br_loc_x, br_loc_y, 5),
                        (br_eq_x, br_eq_y, 6), (br_or_x, br_or_y, 7)], (-0.15, 1.39), -0.062, False)

for ax, ticks, labels in [(axes[0, 0], top_yticks, top_yticklabels),
                          (axes[1, 0], bottom_yticks, bottom_yticklabels)]:
    ax.set_yticks(ticks)
    ax.set_yticklabels(labels, rotation=45)
    ax.set_ylabel(r"$\sigma_{P+B}/\sigma$", fontsize=12)

for ax in axes[1, :]:
    ax.set_xlabel("# WST coeffs", fontsize=12)
    plt.setp(ax.get_xticklabels(), rotation=45)

fig.savefig("out.png", dpi=300)
plt.close(fig)
